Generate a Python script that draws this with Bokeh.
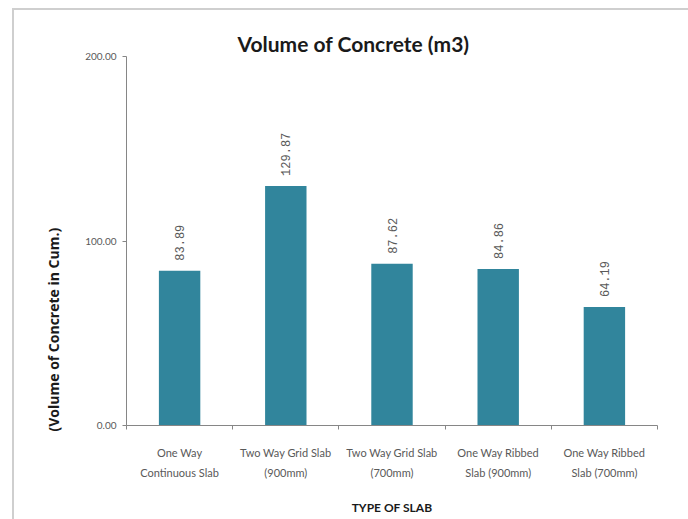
import numpy as np
from bokeh.plotting import figure
from bokeh.models import ColumnDataSource, Range1d, FixedTicker, NumeralTickFormatter, Title
from bokeh.core.properties import value
from bokeh.embed import file_html
from bokeh.resources import INLINE

# Slab types compared and the concrete volume needed for each (m3)
slab_types = [
    "One Way\nContinuous Slab",
    "Two Way Grid Slab\n(900mm)",
    "Two Way Grid Slab\n(700mm)",
    "One Way Ribbed\nSlab (900mm)",
    "One Way Ribbed\nSlab (700mm)",
]
concrete_volume = [83.89, 129.87, 87.62, 84.86, 64.19]
y_ticks = [0, 100, 200]

positions = [i + 0.5 for i in range(len(slab_types))]
boundaries = list(range(len(slab_types) + 1))
value_labels = [f"{v:.2f}" for v in concrete_volume]

source = ColumnDataSource(dict(x=positions, top=concrete_volume, label=value_labels))

BAR = "#31859C"
GREY_TEXT = "#595959"
AXIS = "#868686"
FONT = "Lato"

p = figure(
    width=674, height=509,
    x_range=Range1d(0, len(slab_types)), y_range=Range1d(0, 200),
    output_backend="svg", toolbar_location=None,
    min_border_left=112, min_border_right=31,
    min_border_top=46, min_border_bottom=94,
)
p.styles = {"margin-left": "14px", "margin-top": "10px", "outline": "2px solid #cfcfcf"}

p.vbar(x="x", top="top", bottom=0, width=0.39, source=source,
       fill_color=BAR, line_color=None)

p.text(x="x", y="top", text="label", source=source,
       angle=np.pi / 2, text_align="left", text_baseline="middle", y_offset=-10,
       text_font=value("Liberation Mono"), text_font_size="12px", text_color=GREY_TEXT)

# Title
p.title.text = "Volume of Concrete (m3)"
p.title.text_font = FONT
p.title.text_font_style = "bold"
p.title.text_font_size = "21px"
p.title.text_color = "#1a1a1a"
p.title.align = "left"
p.title.offset = 111
p.title.standoff = 2

# X axis: labels at bar centres, tick marks between categories
xa = p.xaxis[0]
xa.ticker = FixedTicker(ticks=positions, minor_ticks=boundaries)
xa.major_label_overrides = {pos: lab for pos, lab in zip(positions, slab_types)}
xa.major_tick_line_color = None
xa.minor_tick_in = 0
xa.minor_tick_out = 4
xa.minor_tick_line_color = AXIS
xa.axis_line_color = AXIS
xa.major_label_text_font = FONT
xa.major_label_text_font_size = "11px"
xa.major_label_text_color = GREY_TEXT
xa.major_label_text_line_height = 1.55
xa.major_label_standoff = 14
xa.axis_label = "TYPE OF SLAB"
xa.axis_label_text_font = FONT
xa.axis_label_text_font_style = "bold"
xa.axis_label_text_font_size = "12px"
xa.axis_label_text_color = "#1a1a1a"
xa.axis_label_standoff = 18

# Y axis
ya = p.yaxis[0]
ya.ticker = FixedTicker(ticks=y_ticks, minor_ticks=[])
ya.formatter = NumeralTickFormatter(format="0.00")
ya.major_tick_in = 0
ya.major_tick_out = 4
ya.major_tick_line_color = AXIS
ya.axis_line_color = AXIS
ya.major_label_text_font = FONT
ya.major_label_text_font_size = "10px"
ya.major_label_text_color = GREY_TEXT
ya.major_label_standoff = 6

# Vertical axis caption, sitting lower than the middle of the axis
p.add_layout(Title(
    text="(Volume of Concrete in Cum.)", align="left", offset=-6, standoff=39,
    text_font="Open Sans", text_font_style="bold", text_font_size="14px", text_color="#1a1a1a",
), "left")

p.xgrid.visible = False
p.ygrid.visible = False
p.outline_line_color = None
p.background_fill_color = "white"
p.border_fill_color = "white"

open("out.html", "w").write(file_html(p, INLINE))
